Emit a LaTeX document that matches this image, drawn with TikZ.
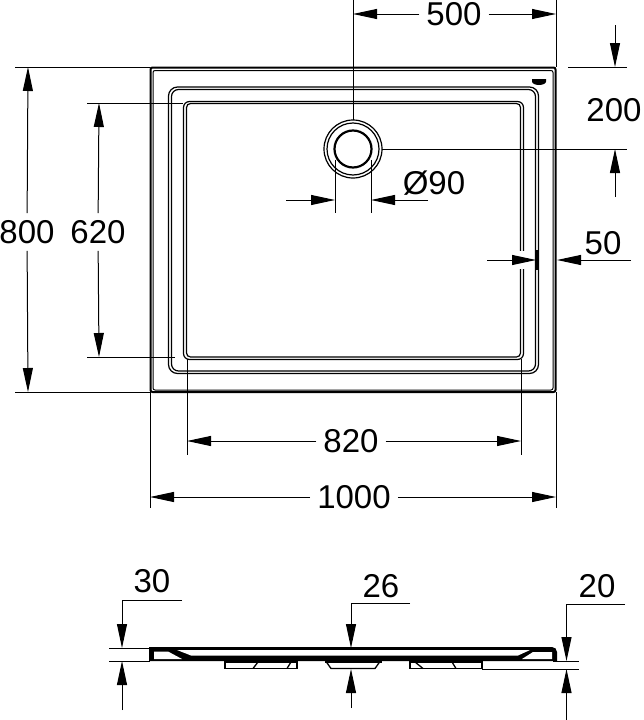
\documentclass[tikz,border=0pt]{standalone}
\usepackage{fontspec}
\setmainfont{Liberation Sans}
\usetikzlibrary{arrows.meta}

\tikzset{
    dimtext/.style={font=\fontsize{33}{33}\selectfont, inner sep=7pt},
    dimline/.style={line width=1pt, -{Triangle[length=24pt,width=10pt]}},
    extline/.style={line width=1pt},
    tray/.style={line width=1.2pt, rounded corners=7pt},
    foot/.style={line width=1.3pt}
}

\begin{document}
\begin{tikzpicture}[x=1pt,y=-1pt]

    \useasboundingbox (0,0) rectangle (643,720);

    % tray seen from above
    \draw[line width=2pt, rounded corners=2pt] (150.5,67.5) rectangle (555.5,392);
    \draw[line width=1pt, rounded corners=2pt] (153,70.5) rectangle (553,390);
    \draw[tray, rounded corners=9pt] (168.5,87) rectangle (538.5,373.5);
    \draw[tray, rounded corners=7pt] (171.5,89.5) rectangle (535.5,371);
    \draw[tray, rounded corners=6pt] (183.5,101.5) rectangle (523.5,359.5);
    \draw[tray, rounded corners=4pt] (186.5,103.5) rectangle (520.5,357);
    \fill[white] (517,251) rectangle (534,269);
    \draw[line width=1.2pt] (537,250) -- (537,270);
    \fill (532,79) -- (546,79) -- (546,81.5) arc[start angle=0, end angle=180, x radius=7, y radius=3.5] -- cycle;

    % drain
    \draw[line width=1.2pt] (353,149) circle[radius=29];
    \draw[line width=1.2pt] (353,149) circle[radius=26];
    \draw[line width=2.2pt] (353,149) circle[radius=18.5];

    % reference points
    \coordinate (top500a) at (353,0);
    \coordinate (drainN) at (353,120);
    \coordinate (top500b) at (556,0);
    \coordinate (cornerNE) at (556,67);
    \coordinate (tip500a) at (353,14);
    \coordinate (tip500b) at (556,14);
    \coordinate (ext200a) at (568,67);
    \coordinate (end200a) at (627,67);
    \coordinate (drainE) at (382,149);
    \coordinate (end200b) at (627,149);
    \coordinate (tail200a) at (615,25);
    \coordinate (tip200a) at (615,67);
    \coordinate (tail200b) at (615,197);
    \coordinate (tip200b) at (615,149);
    \coordinate (d90aN) at (335,160);
    \coordinate (d90aS) at (335,213);
    \coordinate (d90bN) at (371,160);
    \coordinate (d90bS) at (371,213);
    \coordinate (tail90a) at (286,200);
    \coordinate (tip90a) at (335,200);
    \coordinate (tip90b) at (371,200);
    \coordinate (tail50a) at (487,260);
    \coordinate (tip50a) at (536,260);
    \coordinate (tail50b) at (631,260);
    \coordinate (tip50b) at (557,260);
    \coordinate (ext800a) at (15,67);
    \coordinate (cornerNW) at (150,67);
    \coordinate (ext800b) at (15,392);
    \coordinate (cornerSW) at (150,392);
    \coordinate (tip800a) at (28,67);
    \coordinate (tip800b) at (28,392);
    \coordinate (ext620a) at (87,103);
    \coordinate (innerN) at (183,103);
    \coordinate (ext620b) at (87,357);
    \coordinate (innerS) at (175,357);
    \coordinate (tip620a) at (99,103);
    \coordinate (tip620b) at (99,357);
    \coordinate (innerW) at (187,359);
    \coordinate (ext820a) at (187,455);
    \coordinate (innerE) at (521,359);
    \coordinate (ext820b) at (521,455);
    \coordinate (tip820a) at (187,441);
    \coordinate (tip820b) at (521,441);
    \coordinate (trayW) at (150,392);
    \coordinate (ext1000a) at (150,508);
    \coordinate (trayE) at (556,392);
    \coordinate (ext1000b) at (556,508);
    \coordinate (tip1000a) at (150,497);
    \coordinate (tip1000b) at (556,497);

    % labels
    \node[dimtext] (l500) at (454,14) {500};
    \node[dimtext] (l200) at (614,110) {200};
    \node[dimtext] (l90) at (434,183) {Ø90};
    \node[dimtext] (l50) at (603,243) {50};
    \node[dimtext] (l800) at (27,232) {800};
    \node[dimtext] (l620) at (98,232) {620};
    \node[dimtext] (l820) at (351,441) {820};
    \node[dimtext] (l1000) at (354,497) {1000};
    \node[dimtext] (l30) at (152,581) {30};
    \node[dimtext] (l26) at (381,586) {26};
    \node[dimtext] (l20) at (597,586) {20};

    % extension lines
    \draw[extline] (top500a) -- (drainN);
    \draw[extline] (top500b) -- (cornerNE);
    \draw[extline] (ext200a) -- (end200a);
    \draw[extline] (drainE) -- (end200b);
    \draw[extline] (d90aN) -- (d90aS);
    \draw[extline] (d90bN) -- (d90bS);
    \draw[extline] (ext800a) -- (cornerNW);
    \draw[extline] (ext800b) -- (cornerSW);
    \draw[extline] (ext620a) -- (innerN);
    \draw[extline] (ext620b) -- (innerS);
    \draw[extline] (innerW) -- (ext820a);
    \draw[extline] (innerE) -- (ext820b);
    \draw[extline] (trayW) -- (ext1000a);
    \draw[extline] (trayE) -- (ext1000b);

    % dimension arrows
    \draw[dimline] (l500) -- (tip500a);
    \draw[dimline] (l500) -- (tip500b);
    \draw[dimline] (tail200a) -- (tip200a);
    \draw[dimline] (tail200b) -- (tip200b);
    \draw[dimline] (tail90a) -- (tip90a);
    \draw[dimline] (l90 |- tip90b) ++(-6,0) coordinate (tail90b) -- (tip90b);
    \draw[dimline] (tail50a) -- (tip50a);
    \draw[dimline] (tail50b) -- (tip50b);
    \draw[dimline] (l800) -- (tip800a);
    \draw[dimline] (l800) -- (tip800b);
    \draw[dimline] (l620) -- (tip620a);
    \draw[dimline] (l620) -- (tip620b);
    \draw[dimline] (l820) -- (tip820a);
    \draw[dimline] (l820) -- (tip820b);
    \draw[dimline] (l1000) -- (tip1000a);
    \draw[dimline] (l1000) -- (tip1000b);

    % tray seen from the side
    \fill (149,647) -- (552,647) arc[start angle=-90, end angle=0, radius=5] -- (557,661) -- (149,661) -- cycle;
    \fill[white] (154,651.5) -- (168,651.5) -- (182,659) -- (154,659) -- cycle;
    \fill[white] (177,650) -- (530,650) -- (518,655.5) -- (191,655.5) -- cycle;
    \fill[white] (522,659) -- (533,652) -- (552,652) -- (552,659) -- cycle;
    \fill (225,658) rectangle (297,663);
    \fill (325,658) rectangle (382,663);
    \fill (410,658) rectangle (482,663);
    \draw[foot] (225,660) -- (225,668.5) -- (297,668.5) -- (297,660);
    \draw[foot] (253,668.5) -- (258,662);
    \draw[foot] (287,668.5) -- (291,662);
    \draw[foot] (325,660) -- (331,668.5) -- (375,668.5) -- (381,660);
    \draw[foot] (410,660) -- (410,668.5) -- (482,668.5) -- (482,660);
    \draw[foot] (415,662) -- (423,668.5);
    \draw[foot] (452,662) -- (456,668.5);

    % side dimensions
    \coordinate (lead30a) at (182,600);
    \coordinate (lead30b) at (122,600);
    \coordinate (tip30a) at (122,648);
    \coordinate (tail30) at (122,710);
    \coordinate (tip30b) at (122,661);
    \coordinate (ext30a) at (109,648);
    \coordinate (side30a) at (150,648);
    \coordinate (ext30b) at (109,661);
    \coordinate (side30b) at (150,661);
    \coordinate (lead26a) at (410,603);
    \coordinate (lead26b) at (351,603);
    \coordinate (tip26a) at (351,648);
    \coordinate (tail26) at (351,708);
    \coordinate (tip26b) at (351,669);
    \coordinate (lead20a) at (625,604);
    \coordinate (lead20b) at (566.5,604);
    \coordinate (tip20a) at (566.5,661);
    \coordinate (tail20) at (566.5,720);
    \coordinate (tip20b) at (566.5,669);
    \coordinate (ext20a) at (553,661);
    \coordinate (end20a) at (579,661);
    \coordinate (ext20b) at (482,669);
    \coordinate (end20b) at (579,669);

    \draw[extline] (ext30a) -- (side30a);
    \draw[extline] (ext30b) -- (side30b);
    \draw[extline] (ext20a) -- (end20a);
    \draw[extline] (ext20b) -- (end20b);
    \draw[dimline] (lead30a) -- (lead30b) -- (tip30a);
    \draw[dimline] (tail30) -- (tip30b);
    \draw[dimline] (lead26a) -- (lead26b) -- (tip26a);
    \draw[dimline] (tail26) -- (tip26b);
    \draw[dimline] (lead20a) -- (lead20b) -- (tip20a);
    \draw[dimline] (tail20) -- (tip20b);

\end{tikzpicture}
\end{document}
